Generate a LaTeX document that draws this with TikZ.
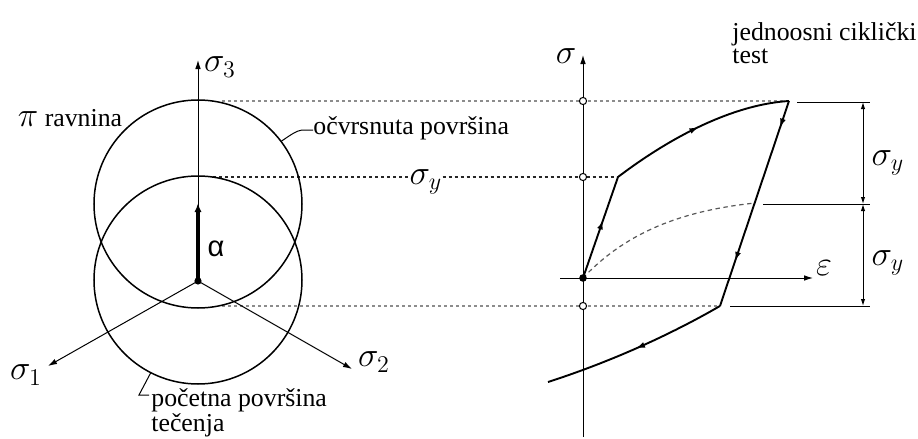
\documentclass[tikz,border=0pt]{standalone}
\usepackage{fontspec}
\setmainfont{Liberation Serif}
\newfontfamily\alphafont{Liberation Sans}
\usetikzlibrary{arrows.meta,decorations.markings}
\tikzset{
  thin axis/.style={line width=0.5pt,-{Latex[length=4.5pt,width=2.8pt]}},
  surface/.style={draw,circle,line width=0.75pt,minimum size=104pt,inner sep=0pt,outer sep=0pt},
  curve/.style={line width=0.95pt},
  guide/.style={black!45,line width=0.55pt,dash pattern=on 1.6pt off 1.4pt},
  guidedark/.style={black!85,line width=0.55pt,dash pattern=on 1.6pt off 1.4pt},
  arrowat/.style={postaction={decorate,decoration={markings,mark=at position #1 with {\arrow{Latex[length=4.5pt,width=3pt]}}}}},
  dimline/.style={line width=0.5pt,{Latex[length=3.5pt,width=2.2pt]}-{Latex[length=3.5pt,width=2.2pt]}},
  opendot/.style={circle,draw,fill=white,line width=0.5pt,minimum size=3.6pt,inner sep=0pt},
  fulldot/.style={circle,fill=black,minimum size=3.8pt,inner sep=0pt},
  lbl/.style={inner sep=0pt},
  mlbl/.style={inner sep=0pt,font=\fontsize{17.28}{18}\selectfont},
}
\begin{document}
\begin{tikzpicture}[x=0.5pt,y=-0.5pt,font=\fontsize{12.9}{11.5}\selectfont]
\useasboundingbox[fill=white] (0,0) rectangle (918,439);

% ---------- left: pi plane ----------
\coordinate (O1) at (198,281);
\coordinate (S3) at (198,60);
\coordinate (S1) at (48,366);
\coordinate (S2) at (352,369);
\coordinate (A) at (198,203);

% dashed guides
\coordinate (gt) at (222,101);
\coordinate (gm) at (213,177);
\coordinate (gb) at (222,306);
\coordinate (P) at (789,101);
\coordinate (K) at (618,177);
\coordinate (Q) at (720,306);
\coordinate (E) at (548,382);
\coordinate (O2) at (583,278);
\coordinate (D) at (755,203);

\node[mlbl] (sym) at (426,182) {$\sigma_y$};
\draw[guide] (gt) -- (P);
\draw[guidedark] (gm) -- (gm -| sym.west);
\draw[guidedark] (gm -| sym.east) -- (K);
\draw[guide] (gb) -- (Q);

\node[surface] (hard) at (198,204) {};
\node[surface] (init) at (198,280) {};

\draw[thin axis] (O1) -- (S3);
\draw[thin axis] (O1) -- (S1);
\draw[thin axis] (O1) -- (S2);
\draw[line width=1.7pt,-{Latex[length=4.5pt,width=3.6pt]}] (O1) -- (A);
\node[fulldot,minimum size=3.6pt] (o1dot) at (O1) {};

\node[mlbl] (s3) at (220,67) {$\sigma_3$};
\node[mlbl] (s1) at (26,375) {$\sigma_1$};
\node[mlbl] (s2) at (374,362) {$\sigma_2$};
\node[lbl,font=\alphafont\fontsize{14.5}{16}\selectfont] (alpha) at (216,249) {α};
\node[lbl] (pi) at (70,118) {{\fontsize{17.28}{18}\selectfont$\pi$} ravnina};

\node[lbl,anchor=west] (hardlbl) at (313,128) {očvrsnuta površina};
\draw[line width=0.5pt] (hard.37) .. controls (292,134) and (296,131) .. (302,130) -- (hardlbl.west |- 0,130);
\node[lbl,anchor=west,align=left] (initlbl) at (151,413) {početna površina\\tečenja};
\coordinate (il) at (139,395);
\draw[line width=0.5pt] (init.243) -- (il) -- (149,395);

% ---------- right: uniaxial cyclic test ----------
\draw[thin axis] (583,437) -- (583,55) coordinate (Stop);
\draw[thin axis] (560,278) -- (813,278) coordinate (Etop);
\node[mlbl] (sig) at (566,56) {$\sigma$};
\node[mlbl] (eps) at (824,268) {$\varepsilon$};

\draw[curve,arrowat=0.57] (O2) -- (K);
\draw[curve,arrowat=0.5] (K) .. controls (680,130) and (740,104) .. (P);
\draw[curve,arrowat=0.13,arrowat=0.78] (P) -- (Q);
\draw[curve,arrowat=0.5] (Q) .. controls (670,335) and (610,362) .. (E);
\draw[black!65,line width=0.6pt,dash pattern=on 2.2pt off 1.8pt] (O2) .. controls (630,228) and (690,210) .. (D);

\node[fulldot] (o2dot) at (O2) {};
\node[opendot] (c1) at (583,101) {};
\node[opendot] (c2) at (583,177) {};
\node[opendot] (c3) at (583,306) {};

% dimension lines
\coordinate (h1) at (797,102);
\coordinate (h2) at (763,204);
\coordinate (h3) at (730,306);
\coordinate (hx) at (870,0);
\draw[line width=0.5pt] (h1) -- (h1 -| hx);
\draw[line width=0.5pt] (h2) -- (h2 -| hx);
\draw[line width=0.5pt] (h3) -- (h3 -| hx);
\coordinate (d1) at (863,102);
\coordinate (d2) at (863,204);
\coordinate (d3) at (863,306);
\draw[dimline] (d1) -- (d2);
\draw[dimline] (d2) -- (d3);
\node[mlbl] (sy1) at (888,163) {$\sigma_y$};
\node[mlbl] (sy2) at (888,263) {$\sigma_y$};

\node[lbl,anchor=west,align=left] (title) at (732,43) {jednoosni ciklički\\test};
\end{tikzpicture}
\end{document}
